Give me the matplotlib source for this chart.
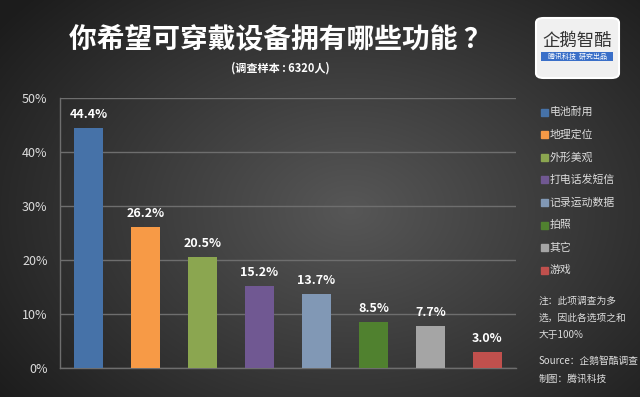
import numpy as np
import matplotlib.pyplot as plt
from matplotlib.patches import FancyBboxPatch, Rectangle

plt.rcParams['font.family'] = ['Noto Sans CJK SC', 'DejaVu Sans']

# data
categories = ['电池耐用', '地理定位', '外形美观', '打电话发短信', '记录运动数据', '拍照', '其它', '游戏']
values = [44.4, 26.2, 20.5, 15.2, 13.7, 8.5, 7.7, 3.0]
colors = ['#4672A8', '#F79A46', '#8BA650', '#705892', '#8198B5', '#50812F', '#A5A5A5', '#C0504D']
yticks = [0, 10, 20, 30, 40, 50]

title = '你希望可穿戴设备拥有哪些功能 ？'
subtitle = '(调查样本 : 6320人)'
notes = ['注：此项调查为多', '选，因此各选项之和', '大于100%']
source = ['Source：企鹅智酷调查', '制图：腾讯科技']

fig = plt.figure(figsize=(6.4, 3.97), dpi=100)

# dark radial background
bg = fig.add_axes([0, 0, 1, 1])
yy, xx = np.mgrid[0:397, 0:640]
d = np.sqrt(((xx - 350) / 420.0) ** 2 + ((yy - 210) / 300.0) ** 2)
shade = np.clip(0.34 - 0.22 * d, 0.11, 0.34)
bg.imshow(np.dstack([shade] * 3), aspect='auto', extent=[0, 1, 0, 1])
bg.set_xlim(0, 1)
bg.set_ylim(0, 1)
bg.axis('off')

# main bar chart
ax = fig.add_axes([60 / 640, 1 - 368 / 397, 456 / 640, 270 / 397])
ax.patch.set_alpha(0)
x = np.arange(len(categories))
bars = ax.bar(x, values, width=0.51, color=colors, zorder=3)
for xi, v in zip(x, values):
    ax.annotate(f'{v:.1f}%', (xi, v), xytext=(0, 5), textcoords='offset points',
                ha='center', va='bottom', color='white', fontsize=9, fontweight='bold')

ax.set_xlim(-0.5, len(categories) - 0.5)
ax.set_ylim(0, 50)
ax.set_yticks(yticks)
ax.set_yticklabels([f'{t}%' for t in yticks], color='#dddddd', fontsize=9)
ax.set_xticks([])
ax.tick_params(axis='y', length=0, pad=9)
ax.grid(axis='y', color='#6e6e6e', lw=1, zorder=0)
for s in ['top', 'right']:
    ax.spines[s].set_visible(False)
for s in ['left', 'bottom']:
    ax.spines[s].set_color('#6e6e6e')
    ax.spines[s].set_linewidth(1)

# legend, drawn by hand to match the loose spacing
for i, (lab, c) in enumerate(zip(categories, colors)):
    ypix = 112 + i * 22.6
    fig.patches.append(Rectangle((541 / 640, 1 - (ypix + 3.5) / 397), 7 / 640, 7 / 397,
                                 transform=fig.transFigure, color=c))
    fig.text(550 / 640, 1 - ypix / 397, lab, color='#dddddd', fontsize=7.8, va='center')

# title and subtitle
fig.text(280 / 640, 1 - 40 / 397, title, color='white', fontsize=20, fontweight='bold',
         ha='center', va='center')
fig.text(280 / 640, 1 - 68 / 397, subtitle, color='white', fontsize=8, fontweight='bold',
         ha='center', va='center')

# notes
for i, line in enumerate(notes):
    fig.text(539 / 640, 1 - (301 + i * 17) / 397, line, color='#dddddd', fontsize=7,
             style='italic', va='center')
for i, line in enumerate(source):
    fig.text(539 / 640, 1 - (361 + i * 18) / 397, line, color='#dddddd', fontsize=7,
             style='italic', va='center')

# logo box
fig.patches.append(FancyBboxPatch((536 / 640, 1 - 78 / 397), 83 / 640, 60 / 397,
                                  boxstyle='round,pad=0,rounding_size=0.012',
                                  transform=fig.transFigure, facecolor='#f0f0f0',
                                  edgecolor='white', lw=1.5))
fig.text(577 / 640, 1 - 41 / 397, '企鹅智酷', color='#333333', fontsize=12.5,
         ha='center', va='center')
fig.patches.append(Rectangle((541 / 640, 1 - 61 / 397), 72 / 640, 9 / 397,
                             transform=fig.transFigure, facecolor='#3a6fc8'))
fig.text(577 / 640, 1 - 56.5 / 397, '腾讯科技  研究出品', color='white', fontsize=5,
         style='italic', ha='center', va='center')

fig.savefig('out.png', dpi=100)
